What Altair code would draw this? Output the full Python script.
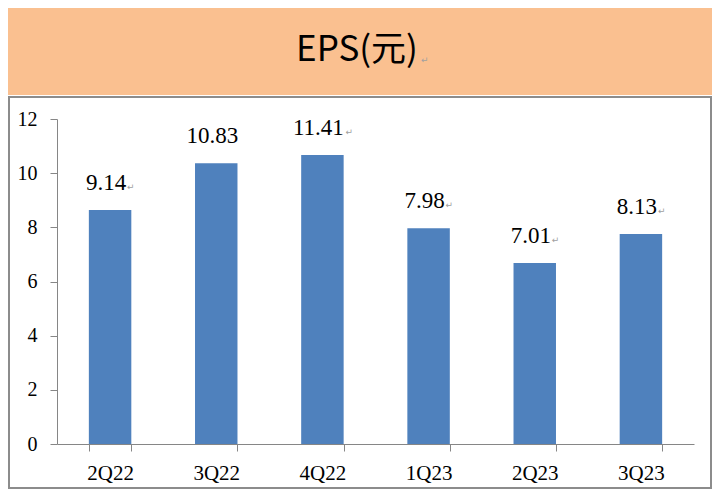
import altair as alt
import pandas as pd

quarters = ["2Q22", "3Q22", "4Q22", "1Q23", "2Q23", "3Q23"]
bar_heights = [8.64, 10.37, 10.67, 7.97, 6.68, 7.75]
label_numbers = ["9.14", "10.83", "11.41", "7.98", "7.01", "8.13"]
label_marks = ["↵", "", "↵", "↵", "↵", "↵"]
title_text = ["EPS(元)"]
title_mark = ["↵"]
y_ticks = [0, 2, 4, 6, 8, 10, 12]

W, H = 637, 325

df = pd.DataFrame({
    "quarter": quarters,
    "value": bar_heights,
    "num": label_numbers,
    "mark": label_marks,
})
title_df = pd.DataFrame({"t": title_text, "m": title_mark})

x_enc = alt.X(
    "quarter:N", sort=quarters,
    scale=alt.Scale(paddingInner=0.6, paddingOuter=0.3),
    axis=alt.Axis(title=None, tickBand="extent", labelAngle=0, tickSize=7,
                  labelPadding=11, labelFont="Liberation Serif", labelFontSize=21,
                  labelColor="#000000", domainColor="#868686", tickColor="#868686"),
)
y_enc = alt.Y(
    "value:Q",
    scale=alt.Scale(domain=[0, 12], nice=False),
    axis=alt.Axis(title=None, values=y_ticks, grid=False, tickSize=7, labelPadding=13,
                  labelFont="Liberation Serif", labelFontSize=20, labelColor="#000000",
                  domainColor="#868686", tickColor="#868686"),
)

title_bg = alt.Chart(title_df).mark_rect(color="#FAC090").encode(
    x=alt.value(-49), x2=alt.value(655), y=alt.value(-111), y2=alt.value(-24)
)
frame = alt.Chart(title_df).mark_rect(fillOpacity=0, stroke="#8C8C8C", strokeWidth=2).encode(
    x=alt.value(-48), x2=alt.value(654), y=alt.value(-22), y2=alt.value(369)
)
title_txt = alt.Chart(title_df).mark_text(
    font="Noto Sans CJK TC", fontSize=35, color="#000000", align="center", baseline="alphabetic"
).encode(x=alt.value(300), y=alt.value(-58), text="t:N")
title_arrow = alt.Chart(title_df).mark_text(
    font="DejaVu Sans", fontSize=9, color="#A0A0A0", align="left", baseline="alphabetic"
).encode(x=alt.value(364), y=alt.value(-56), text="m:N")

bars = alt.Chart(df).mark_bar(color="#4F81BD").encode(x=x_enc, y=y_enc)

labels = alt.Chart(df).mark_text(
    font="Liberation Serif", fontSize=23, color="#000000", align="center",
    baseline="alphabetic", dy=-20, dx=-4
).encode(x=x_enc, y=y_enc, text="num:N")

base_arrow = alt.Chart(df).transform_calculate(n="length(datum.num)")
arrows4 = base_arrow.transform_filter("datum.n == 4").mark_text(
    font="DejaVu Sans", fontSize=9, color="#A0A0A0", align="left",
    baseline="alphabetic", dy=-20, dx=17
).encode(x=x_enc, y=y_enc, text="mark:N")
arrows5 = base_arrow.transform_filter("datum.n == 5").mark_text(
    font="DejaVu Sans", fontSize=9, color="#A0A0A0", align="left",
    baseline="alphabetic", dy=-20, dx=23
).encode(x=x_enc, y=y_enc, text="mark:N")

chart = alt.layer(
    title_bg, frame, title_txt, title_arrow, bars, labels, arrows4, arrows5
).properties(
    width=W, height=H,
    padding={"left": 49, "top": 111, "right": 18, "bottom": 45},
    autosize=alt.AutoSizeParams(type="none"),
    background="#FFFFFF",
).configure_view(stroke=None)

chart.save("out.html", embed_options={"renderer": "svg", "actions": False})
